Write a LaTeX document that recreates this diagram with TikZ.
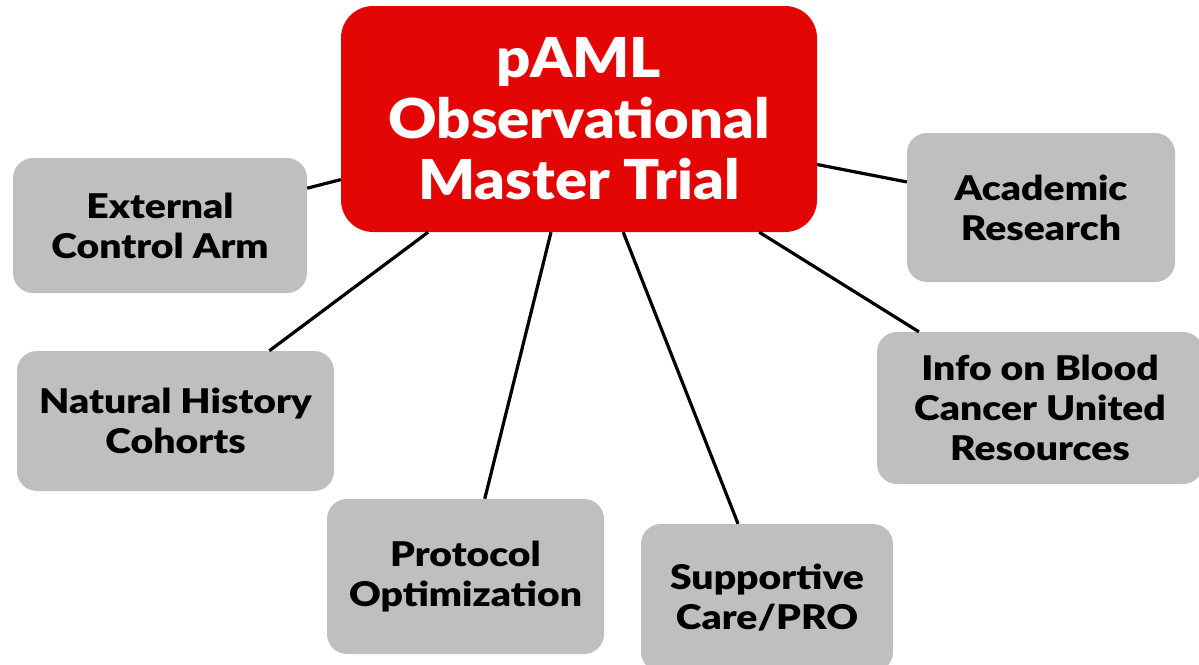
\documentclass[tikz,border=0pt]{standalone}
\usepackage{fontspec}
\newfontfamily\hubfont{Lato Black}[FakeStretch=1.085]
\newfontfamily\leaffont{Lato Black}[FakeStretch=1.15]
\definecolor{hubred}{HTML}{E40505}
\definecolor{leafgray}{HTML}{BFBFBF}
\begin{document}
\begin{tikzpicture}[x=1pt,y=-1pt,
  hub/.style={rectangle, rounded corners=32pt, fill=hubred, text=white,
    inner sep=0pt, align=center, font=\hubfont\fontsize{55}{61}\selectfont},
  leaf/.style={rectangle, rounded corners=20pt, fill=leafgray, text=black,
    inner sep=0pt, align=center, font=\leaffont\fontsize{34}{40}\selectfont},
  link/.style={draw=black, line width=3.2pt}]
\useasboundingbox (0,0) rectangle (1199,664);

\node[hub, minimum width=476pt, minimum height=226pt] (trial) at (579,119)
  {pAML\\Observational\\Master Trial};

\node[leaf, minimum width=294pt, minimum height=135pt] (eca) at (160,225.5)
  {External\\Control Arm};
\node[leaf, minimum width=268pt, minimum height=149pt] (acad) at (1041,207.5)
  {Academic\\Research};
\node[leaf, minimum width=317pt, minimum height=140pt] (nhc) at (175.5,421)
  {Natural History\\Cohorts};
\node[leaf, minimum width=326pt, minimum height=152pt] (info) at (1040,408)
  {Info on Blood\\Cancer United\\Resources};
\node[leaf, minimum width=277pt, minimum height=155pt] (proto) at (465.5,576.5)
  {Protocol\\Optimization};
\node[leaf, minimum width=252pt, minimum height=148pt] (supp) at (767,598)
  {Supportive\\Care/PRO};

\foreach \n in {eca,acad,nhc,info,proto,supp}
  \draw[link] (trial) -- (\n);
\end{tikzpicture}
\end{document}
